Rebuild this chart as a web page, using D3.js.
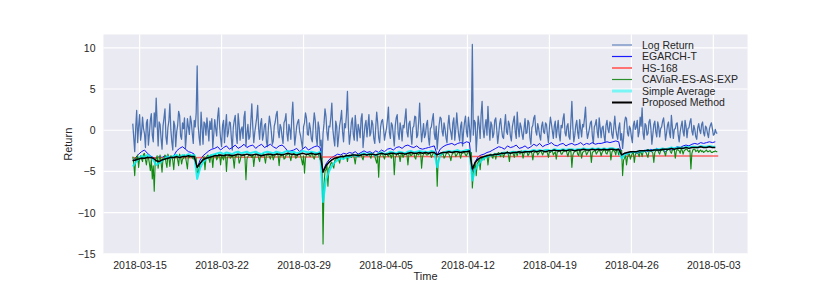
<!DOCTYPE html>
<html>
<head>
<meta charset="utf-8">
<script src="https://cdn.jsdelivr.net/npm/d3@7"></script>
<style>
  body { margin: 0; background: #fff; }
  text { font-family: "Liberation Sans", Arial, sans-serif; }
</style>
</head>
<body>
<script>
// log returns, every 2h from 2018-03-14 10:00
const logReturn = [
  0.8, -0.9, -2.6, 0.3, 2.4, -1.5, 0.5, 1.9, -1.2, -0.3, 1.6, 0.2, -0.4, -2.1, 0.9, 1.3, -1.8, -0.5, 1.2, 2.0,
  -0.6, -1.4, 2.1, 0.4, 3.9, 0.8, -1.9, 1.0, 0.7, -1.0, -2.3, 0.5, 1.5, 2.6, -0.8, -1.7, 0.3, 1.1, 3.2, 0.1,
  -1.4, -2.4, 1.1, 0.6, -2.0, -0.2, 0.6, 2.3, 1.8, -0.7, -1.1, 0.9, 0.2, 1.5, -2.2, -0.6, 1.4, 0.4, -0.5, 1.7,
  1.0, -0.4, -1.6, 1.2, 0.4, 2.1, 7.8, 0.6, -0.9, -1.8, 2.2, 0.3, -1.7, 1.0, 0.8, -0.6, 1.5, 0.2, -1.3, 1.1,
  0.1, 1.4, -2.1, -0.5, 1.3, 0.2, -0.7, 1.6, 2.7, 0.5, -1.0, -2.0, 0.6, 1.2, -1.5, 0.4, 1.9, -0.8, -0.3, 1.0,
  0.9, -0.9, -2.4, 0.3, 1.2, 1.8, -0.6, -1.6, 2.0, 0.7, -1.2, 0.1, 0.4, -1.0, 1.6, 2.3, -1.9, -0.4, 0.7, -1.1,
  -0.8, 1.1, 3.2, 0.4, -1.5, -0.3, 0.6, 1.5, 3.0, 0.2, -1.1, 0.8, 1.4, -1.2, -0.5, 0.6, 0.8, -1.4, -2.0, 0.3,
  1.7, 0.9, -0.2, -1.7, -1.3, 0.5, 1.0, 1.9, 2.3, -0.1, -0.9, 0.7, 0.3, -0.8, -1.6, 0.9, 1.2, 2.0, -0.4, -1.3,
  0.7, 0.1, -1.1, 1.6, 3.4, 0.5, -1.8, -0.7, 0.5, 1.0, 1.3, -0.2, -0.7, -1.5, -2.2, 0.4, 0.9, 2.1, 1.5, -0.5,
  -0.6, 0.9, 0.2, -1.0, -1.4, 0.6, 2.1, 1.2, -0.9, -1.8, 1.0, 0.3, -1.9, -1.2, -3.5, -0.4, 0.8, 2.6, 1.7, -0.3,
  -1.2, 0.5, 0.4, 1.6, 3.3, 0.2, -1.0, -1.9, 1.1, 0.5, -2.0, -0.8, 0.6, 1.3, 2.4, -0.2, -1.4, 0.8, 0.3, 1.9,
  4.7, 0.4, -1.7, -0.6, 0.9, 1.5, -0.5, -1.2, 1.8, 0.3, -1.3, 0.7, 0.1, -0.9, 1.4, 2.0, -2.1, -0.7, 0.6, 1.2,
  -0.8, 0.5, 1.9, -0.7, -0.3, 1.2, 0.7, -1.0, -1.6, 0.4, 2.2, 0.9, -0.9, -1.5, 0.4, 1.1, 1.3, 0.2, -1.2, -0.4,
  0.2, 1.3, 2.8, -0.3, -1.0, 0.9, 0.6, -0.6, -1.9, 0.5, 1.5, 1.9, -0.4, -1.1, 0.9, 0.1, -1.3, 0.6, 0.3, 1.4,
  2.6, -0.2, -0.8, 0.8, 1.1, -0.5, -1.7, 0.3, 0.5, 1.7, 1.6, -0.9, -0.6, 1.0, 3.3, 0.6, -1.4, -0.3, 0.8, -0.9,
  -0.5, 0.7, 1.2, -0.9, -1.8, 0.2, 0.4, 1.3, 2.0, -0.4, -1.1, 0.5, -2.3, -0.8, 0.7, 1.6, 1.4, -0.1, -0.7, 0.9,
  0.2, -0.9, -1.5, 0.6, 1.8, 0.3, -0.3, -1.1, 0.9, 1.5, -1.2, 0.1, 2.1, 0.6, -0.6, -1.3, 0.5, 1.0, -1.9, -0.2,
  1.0, 1.7, -0.2, -0.8, 1.6, 0.4, -1.4, 0.8, 10.4, -0.6, 1.2, 0.9, -2.6, -0.5, 1.7, 0.6, -1.0, 1.9, 3.5, 0.2,
  -0.9, 0.4, 1.3, -0.6, 2.9, 0.5, -1.2, 1.0, 0.6, -0.9, -0.4, 1.2, 1.5, 0.1, -1.6, -0.5, 0.8, 1.4, 0.1, -0.8,
  -1.0, 0.6, 1.9, -0.2, -0.5, 1.1, 0.7, -0.7, -1.3, 0.4, 1.1, 1.7, -0.2, -1.0, 2.2, 0.3, -0.8, 0.9, 0.4, -0.5,
  -1.1, 0.2, 1.4, -0.4, -0.3, 1.2, 0.9, -0.9, -1.7, 0.3, 0.6, 1.5, 1.8, -0.1, -0.6, 0.8, 0.2, -0.7, -1.2, 0.5,
  1.0, -0.2, -0.4, 0.9, 0.7, -0.6, -1.5, 0.3, 1.6, 0.8, -0.1, -1.0, 0.5, 1.1, -0.9, 0.2, 1.2, -0.5, -1.3, 0.6,
  0.3, 1.4, 2.0, -0.3, -0.7, 0.5, 0.8, -0.8, -1.1, 1.0, 3.5, 0.4, -1.4, -0.6, 0.6, 1.2, -0.3, -1.0, 1.3, 0.2,
  -0.8, 0.7, 0.4, 1.5, 2.8, 0.1, -1.0, -0.4, 0.2, 0.9, 1.1, -0.7, -1.6, 0.4, 0.7, 1.3, -0.2, -0.9, 1.5, 0.3,
  -0.9, 0.3, 0.5, -0.7, -1.4, 0.6, 1.2, 0.1, -0.3, 1.0, 0.8, -0.5, -1.0, 0.4, 1.7, 0.2, -0.6, -1.1, 0.3, 0.9,
  -1.2, -0.4, -2.2, -0.9, 0.9, 1.6, 1.4, -0.3, -0.7, 0.5, 0.2, -0.8, -1.5, 0.6, 1.1, 0.1, 0.4, 1.2, -0.8, -0.2,
  1.6, 0.5, 2.7, -0.4, -1.1, 0.8, 0.6, -0.6, -0.4, 1.0, 1.3, 0.2, -1.7, -0.5, 0.7, 1.1, -0.2, -0.8, 1.0, 0.4,
  -0.8, 0.2, 0.4, 1.1, 1.5, 0.3, -1.2, -0.4, 0.6, 1.0, -0.3, -0.9, 1.8, 0.4, -1.0, 0.1, 0.2, 0.8, 0.9, -0.6,
  -1.4, -0.2, 0.5, 1.1, -0.2, -0.7, 1.2, 0.5, -0.9, 0.2, 0.3, 1.0, 1.4, -0.1, -0.6, 0.6, 0.1, -0.8, -1.1, 0.3,
  0.8, 0.0, -0.4, 0.7, 1.0, -0.3, -0.7, 0.5, 0.3, -0.4, -0.9, 0.2, 0.6, 0.9, 0.2, -0.6, -0.5, 0.1, -0.3, -0.4
];

// CAViaR-ES-AS-EXP, every 2h
const caviar = [
  -3.2, -4.0, -5.5, -3.3, -3.6, -3.0, -4.5, -3.4, -3.1, -3.5, -3.8, -2.9, -2.8, -3.6, -4.2, -3.2, -3.3, -4.0, -4.9, -3.5,
  -5.9, -4.3, -7.4, -3.8, -3.4, -3.1, -4.6, -3.6, -3.0, -3.9, -5.1, -3.4, -3.5, -3.0, -3.9, -4.5, -2.9, -3.3, -4.4, -3.1,
  -3.2, -3.7, -4.8, -3.2, -3.3, -3.0, -3.6, -4.3, -2.9, -3.2, -4.1, -3.5, -3.4, -3.0, -3.2, -3.9, -4.7, -3.1, -3.3, -3.0,
  -3.1, -3.3, -3.5, -3.0, -3.2, -3.4, -5.0, -5.2, -4.6, -4.1, -3.9, -3.6, -3.5, -3.2, -4.8, -3.4, -3.2, -3.0, -3.4, -3.9,
  -3.0, -3.2, -4.5, -3.1, -3.1, -2.9, -3.6, -3.3, -2.9, -3.0, -4.2, -3.1, -3.3, -3.6, -3.0, -2.9, -5.0, -3.3, -3.1, -3.0,
  -3.4, -3.2, -2.9, -3.5, -4.6, -3.1, -3.2, -2.9, -3.0, -4.0, -3.7, -3.1, -3.1, -3.0, -2.9, -3.4, -6.0, -3.5, -3.2, -3.0,
  -3.0, -3.1, -3.3, -3.0, -4.4, -3.3, -3.0, -2.9, -2.9, -3.4, -3.8, -3.0, -3.1, -2.9, -2.8, -3.3, -4.0, -3.1, -3.0, -2.9,
  -3.2, -3.5, -2.9, -3.0, -3.6, -3.2, -3.0, -2.9, -2.8, -3.1, -4.3, -3.0, -3.1, -2.8, -2.9, -3.5, -3.4, -3.0, -3.0, -2.9,
  -2.8, -3.2, -3.7, -3.0, -3.0, -2.8, -2.9, -3.4, -3.3, -3.0, -2.8, -2.9, -3.1, -3.6, -4.2, -3.1, -5.2, -3.4, -3.0, -2.9,
  -2.9, -3.1, -3.2, -2.9, -2.8, -3.3, -3.5, -3.0, -3.0, -2.9, -2.9, -3.2, -3.6, -3.1, -3.4, -13.8, -6.5, -5.0, -4.8, -4.2,
  -6.8, -4.6, -4.4, -4.0, -3.9, -4.3, -4.6, -3.7, -3.6, -3.3, -3.4, -3.6, -4.0, -3.3, -3.2, -3.1, -3.5, -3.2, -3.1, -3.0,
  -3.8, -3.1, -3.0, -3.2, -3.3, -3.0, -2.9, -3.4, -4.1, -3.1, -3.0, -2.9, -3.2, -3.0, -2.9, -3.3, -3.6, -3.0, -2.9, -3.0,
  -3.0, -2.9, -2.8, -3.1, -3.4, -2.9, -2.9, -3.0, -3.1, -3.6, -4.0, -3.0, -5.7, -3.2, -3.0, -2.8, -2.9, -3.2, -3.5, -2.9,
  -2.8, -3.0, -3.2, -2.8, -3.0, -3.4, -2.8, -2.9, -5.4, -3.3, -3.1, -2.8, -2.9, -3.1, -3.8, -2.9, -2.8, -3.3, -3.0, -2.8,
  -2.9, -3.0, -4.2, -2.9, -2.8, -3.1, -3.0, -2.8, -2.7, -3.3, -3.5, -2.8, -2.9, -3.0, -2.8, -2.7, -4.6, -3.2, -2.9, -2.8,
  -2.8, -3.0, -3.0, -2.9, -2.7, -2.9, -3.3, -3.0, -2.8, -2.7, -2.9, -3.1, -6.8, -3.6, -3.4, -3.1, -3.0, -2.9, -2.8, -3.4,
  -3.2, -2.9, -2.7, -2.8, -2.9, -3.2, -3.7, -3.0, -2.8, -2.7, -2.7, -3.2, -3.0, -2.8, -2.6, -2.9, -3.4, -2.8, -2.8, -2.7,
  -2.7, -3.0, -3.1, -2.8, -2.6, -2.9, -2.9, -2.7, -7.0, -5.2, -4.6, -4.1, -5.5, -4.0, -3.9, -3.5, -4.8, -3.4, -3.6, -3.2,
  -3.6, -3.1, -3.3, -3.0, -4.2, -3.2, -3.0, -2.9, -3.2, -3.4, -2.9, -2.8, -3.5, -3.0, -2.8, -2.7, -3.0, -3.2, -2.7, -2.8,
  -3.3, -2.9, -2.8, -2.7, -2.6, -3.0, -3.8, -2.8, -2.7, -2.6, -2.9, -3.3, -2.6, -2.7, -3.1, -2.6, -2.7, -2.9, -2.5, -2.7,
  -3.4, -2.8, -2.7, -2.6, -2.6, -3.1, -2.9, -2.6, -2.5, -2.8, -3.6, -2.7, -2.7, -2.5, -2.6, -3.0, -2.8, -2.6, -2.5, -2.7,
  -3.0, -2.7, -2.6, -2.5, -2.5, -2.8, -3.3, -2.6, -2.7, -2.5, -2.5, -3.0, -2.8, -2.6, -3.5, -2.7, -2.6, -2.5, -2.5, -2.9,
  -2.9, -2.6, -2.6, -2.5, -2.4, -2.8, -3.2, -2.6, -2.6, -2.5, -4.5, -3.0, -2.7, -2.6, -2.5, -2.4, -2.9, -3.1, -2.4, -2.6,
  -3.4, -2.7, -2.6, -2.5, -2.5, -3.0, -2.8, -2.5, -2.4, -2.6, -3.9, -2.7, -2.6, -2.5, -2.5, -2.9, -2.7, -2.5, -2.4, -2.6,
  -3.1, -2.7, -2.5, -2.4, -2.4, -2.8, -2.9, -2.5, -2.5, -2.4, -3.6, -2.7, -2.4, -2.5, -2.6, -3.0, -2.3, -2.4, -3.0, -2.6,
  -2.5, -2.4, -5.5, -3.6, -3.4, -3.0, -4.2, -3.3, -3.0, -2.9, -3.5, -3.1, -2.8, -2.7, -3.9, -3.0, -2.7, -2.6, -2.9, -3.2,
  -2.6, -2.7, -3.2, -2.6, -2.5, -2.6, -2.7, -3.0, -3.3, -2.6, -2.5, -2.5, -2.6, -2.8, -3.9, -2.7, -2.5, -2.4, -2.4, -2.7,
  -2.9, -2.5, -2.4, -2.3, -2.5, -2.7, -3.1, -2.5, -2.4, -2.3, -2.3, -2.6, -2.8, -2.4, -2.4, -2.3, -3.4, -2.6, -2.3, -2.4,
  -2.5, -2.8, -2.3, -2.4, -2.9, -2.5, -2.4, -2.3, -2.3, -2.5, -2.6, -2.4, -4.7, -2.8, -2.4, -2.3, -2.3, -2.6, -2.5, -2.4,
  -2.7, -2.5, -2.4, -2.6, -2.5, -2.7, -2.6, -2.5, -2.4, -2.6, -2.6, -2.5, -2.5, -2.7, -2.7, -2.6, -2.6, -2.5, -2.6, -2.6
];

// EGARCH-T, every 6h
const egarch = [
  -3.7, -3.3, -2.9, -2.6, -2.4, -2.8, -3.1, -3.3, -3.4, -3.2, -3.3, -3.1, -3.2, -3.3, -3.1, -2.5, -2.2, -2.0, -2.3, -2.6,
  -2.7, -2.9, -4.6, -3.6, -3.1, -2.8, -2.5, -2.3, -2.2, -2.0, -2.4, -2.1, -1.9, -2.3, -2.1, -1.8, -2.2, -2.0, -1.7, -2.1,
  -1.9, -1.8, -2.2, -1.9, -1.7, -2.1, -1.9, -1.7, -2.0, -2.2, -1.9, -1.8, -2.1, -2.6, -2.5, -2.4, -2.2, -2.6, -2.3, -2.0,
  -2.4, -2.2, -2.0, -1.9, -2.1, -5.0, -4.1, -3.6, -3.3, -3.1, -2.9, -3.0, -2.8, -2.9, -2.7, -2.8, -2.6, -2.9, -2.7, -2.5,
  -2.7, -2.6, -2.8, -2.5, -2.7, -2.4, -2.6, -2.3, -2.2, -2.4, -2.1, -2.0, -2.2, -1.9, -1.8, -2.0, -2.1, -1.9, -2.2, -2.3,
  -2.2, -2.1, -2.0, -1.9, -3.0, -2.3, -2.0, -1.8, -1.7, -1.6, -1.8, -1.6, -1.5, -1.6, -1.4, -1.5, -5.0, -3.8, -3.2, -3.0,
  -2.9, -2.7, -2.6, -2.4, -2.2, -2.0, -2.1, -2.3, -1.9, -2.1, -2.0, -1.8, -2.2, -2.1, -1.9, -2.2, -2.0, -1.7, -1.9, -1.6,
  -2.0, -1.8, -1.7, -1.5, -1.8, -1.9, -1.7, -1.6, -1.9, -1.7, -1.6, -1.8, -1.7, -1.5, -1.8, -1.6, -1.7, -1.5, -1.7, -1.6,
  -1.6, -1.5, -1.4, -1.5, -1.4, -1.3, -1.4, -3.0, -2.8, -2.9, -2.7, -2.6, -2.8, -2.7, -2.6, -2.4, -2.6, -2.3, -2.5, -2.2,
  -2.5, -2.4, -2.6, -2.3, -2.4, -2.2, -2.0, -2.1, -1.9, -1.8, -1.9, -1.7, -1.6, -1.7, -1.5, -1.6, -1.5, -1.4, -1.5, -1.4
];

// HS-168, daily
const hs168 = [
  -3.35, -3.35, -3.34, -3.34, -3.33, -3.33, -3.32, -3.30, -3.30, -3.28, -3.27, -3.27, -3.26, -3.25, -3.25, -3.24, -3.26,
  -3.25, -3.24, -3.23, -3.22, -3.22, -3.21, -3.20, -3.20, -3.20, -3.21, -3.21, -3.20, -3.20, -3.20, -3.19, -3.19, -3.18,
  -3.18, -3.18, -3.17, -3.17, -3.16, -3.16, -3.15, -3.16, -3.15, -3.15, -3.14, -3.14, -3.13, -3.13, -3.13, -3.12, -3.12
];

// Simple Average, every 6h
const simpleAvg = [
  -4.4, -3.9, -3.5, -3.1, -3.3, -3.0, -3.2, -3.6, -4.2, -4.0, -3.7, -3.4, -3.2, -3.4, -3.1, -3.0, -3.3, -3.0, -3.1, -2.9,
  -3.1, -3.0, -5.9, -4.6, -3.9, -3.5, -3.2, -3.0, -2.9, -2.8, -2.7, -2.9, -2.7, -2.8, -2.9, -2.7, -2.6, -2.8, -2.7, -2.6,
  -2.8, -2.7, -2.6, -2.8, -2.9, -2.7, -2.6, -2.7, -2.8, -2.6, -2.7, -2.8, -2.6, -2.5, -2.7, -2.6, -2.8, -2.7, -2.5, -2.6,
  -2.7, -2.6, -2.7, -2.8, -2.6, -8.7, -6.0, -5.0, -4.3, -3.9, -3.6, -3.4, -3.5, -3.2, -3.3, -3.0, -3.1, -3.2, -2.9, -2.8,
  -3.0, -2.8, -2.9, -3.1, -2.8, -2.7, -2.9, -2.8, -2.6, -2.7, -2.8, -2.6, -2.7, -2.8, -2.6, -2.5, -2.7, -2.6, -2.5, -2.6,
  -2.6, -2.7, -2.5, -2.6, -4.5, -3.0, -2.7, -2.6, -2.5, -2.6, -2.5, -2.4, -2.6, -2.5, -2.4, -2.4, -6.1, -4.8, -4.2, -3.7,
  -3.4, -3.2, -3.1, -3.0, -2.9, -3.0, -2.8, -2.7, -2.8, -2.7, -2.6, -2.7, -2.6, -2.6, -2.5, -2.6, -2.5, -2.4, -2.5, -2.4,
  -2.5, -2.4, -2.4, -2.5, -2.3, -2.4, -2.4, -2.3, -2.4, -2.3, -2.3, -2.4, -2.3, -2.3, -2.2, -2.3, -2.3, -2.2, -2.3, -2.2,
  -2.3, -2.2, -2.3, -2.2, -2.2, -2.3, -2.3, -3.4, -3.0, -2.8, -2.7, -2.6, -2.7, -2.5, -2.6, -2.5, -2.4, -2.5, -2.4, -2.3,
  -2.3, -2.2, -2.3, -2.2, -2.1, -2.2, -2.1, -2.1, -2.2, -2.0, -2.1, -2.0, -2.0, -2.1, -1.9, -2.0, -2.0, -1.9, -2.0, -2.0
];

// Proposed Method, every 6h
const proposed = [
  -3.7, -3.6, -3.5, -3.4, -3.4, -3.3, -3.3, -3.4, -3.7, -3.8, -3.6, -3.5, -3.4, -3.3, -3.3, -3.2, -3.3, -3.2, -3.2, -3.1,
  -3.2, -3.2, -4.5, -4.0, -3.6, -3.4, -3.3, -3.2, -3.1, -3.1, -3.0, -3.1, -3.0, -3.0, -3.1, -3.0, -2.9, -3.0, -3.0, -2.9,
  -3.0, -3.0, -2.9, -3.0, -3.1, -3.0, -2.9, -2.9, -3.0, -2.9, -2.9, -3.0, -2.9, -2.8, -2.9, -2.9, -3.0, -2.9, -2.8, -2.9,
  -2.9, -2.8, -2.9, -2.9, -2.8, -5.1, -4.3, -3.9, -3.6, -3.4, -3.3, -3.2, -3.2, -3.1, -3.1, -3.0, -3.0, -3.1, -3.0, -2.9,
  -3.0, -2.9, -2.9, -3.0, -2.9, -2.8, -2.9, -2.9, -2.8, -2.8, -2.9, -2.8, -2.8, -2.9, -2.8, -2.7, -2.8, -2.8, -2.7, -2.8,
  -2.7, -2.8, -2.7, -2.7, -3.0, -2.8, -2.7, -2.7, -2.6, -2.7, -2.6, -2.6, -2.7, -2.6, -2.6, -2.5, -4.7, -3.9, -3.5, -3.3,
  -3.2, -3.1, -3.0, -3.0, -2.9, -2.9, -2.8, -2.8, -2.7, -2.8, -2.7, -2.7, -2.6, -2.7, -2.6, -2.6, -2.6, -2.5, -2.6, -2.5,
  -2.5, -2.6, -2.5, -2.5, -2.4, -2.5, -2.5, -2.4, -2.5, -2.4, -2.4, -2.5, -2.4, -2.4, -2.3, -2.4, -2.4, -2.3, -2.4, -2.3,
  -2.4, -2.3, -2.4, -2.3, -2.3, -2.4, -2.3, -3.0, -2.8, -2.7, -2.6, -2.6, -2.6, -2.5, -2.5, -2.5, -2.4, -2.5, -2.4, -2.4,
  -2.4, -2.3, -2.3, -2.3, -2.2, -2.3, -2.2, -2.2, -2.2, -2.1, -2.2, -2.1, -2.1, -2.1, -2.0, -2.1, -2.1, -2.0, -2.1, -2.1
];

const xTickLabels = ["2018-03-15", "2018-03-22", "2018-03-29", "2018-04-05",
                     "2018-04-12", "2018-04-19", "2018-04-26", "2018-05-03"];
const yTickValues = [-15, -10, -5, 0, 5, 10];

const width = 830;
const height = 291;
const margin = { top: 34.5, right: 82.5, bottom: 37, left: 103.5 };

const start = new Date(2018, 2, 14, 10);
const hourMs = 3600 * 1000;
const toPoints = (values, stepHours) =>
    values.map((v, i) => ({ t: new Date(+start + i * stepHours * hourMs), v }));

// plotting order follows the legend
const series = [
    { name: "Log Return", pts: toPoints(logReturn, 2), color: "#4C72B0", lw: 1.25, op: 1, legendColor: "#7d98c6", legendLw: 1.5 },
    { name: "EGARCH-T", pts: toPoints(egarch, 6), color: "#1010ff", lw: 1, op: 1, legendColor: "#1a1aff", legendLw: 1.2 },
    { name: "HS-168", pts: toPoints(hs168, 24), color: "#ff3434", lw: 1.5, op: 0.75, legendColor: "#ff7373", legendLw: 2 },
    { name: "CAViaR-ES-AS-EXP", pts: toPoints(caviar, 2), color: "#108a10", lw: 1.1, op: 1, legendColor: "#2a8f2a", legendLw: 1.2 },
    { name: "Simple Average", pts: toPoints(simpleAvg, 6), color: "#00f0f0", lw: 2, op: 0.85, legendColor: "#7af5f5", legendLw: 3 },
    { name: "Proposed Method", pts: toPoints(proposed, 6), color: "#000000", lw: 1.5, op: 1, legendColor: "#000000", legendLw: 2 }
];

const svg = d3.select("body")
    .append("svg")
    .attr("width", width)
    .attr("height", height);

// matplotlib style 5% padding around the data
const allPts = series.flatMap(s => s.pts);
const [t0, t1] = d3.extent(allPts, d => +d.t);
const [v0, v1] = d3.extent(allPts, d => d.v);
const tPad = (t1 - t0) * 0.05;
const vPad = (v1 - v0) * 0.05;

const x = d3.scaleTime()
    .domain([new Date(t0 - tPad), new Date(t1 + tPad)])
    .range([margin.left, width - margin.right]);

const y = d3.scaleLinear()
    .domain([v0 - vPad, v1 + vPad])
    .range([height - margin.bottom, margin.top]);

const parseDay = d3.timeParse("%Y-%m-%d");
const xTicks = xTickLabels.map(parseDay);

// Background and grid
svg.append("rect")
    .attr("x", margin.left)
    .attr("y", margin.top)
    .attr("width", width - margin.left - margin.right)
    .attr("height", height - margin.top - margin.bottom)
    .attr("fill", "#EAEAF2");

svg.append("g")
    .selectAll("line")
    .data(yTickValues)
    .join("line")
    .attr("x1", margin.left)
    .attr("x2", width - margin.right)
    .attr("y1", d => y(d))
    .attr("y2", d => y(d))
    .attr("stroke", "#fff")
    .attr("stroke-width", 1.2);

svg.append("g")
    .selectAll("line")
    .data(xTicks)
    .join("line")
    .attr("x1", d => x(d))
    .attr("x2", d => x(d))
    .attr("y1", margin.top)
    .attr("y2", height - margin.bottom)
    .attr("stroke", "#fff")
    .attr("stroke-width", 1.2);

// Axes
const xAxis = svg.append("g")
    .attr("transform", `translate(0,${height - margin.bottom})`)
    .call(d3.axisBottom(x).tickValues(xTicks).tickFormat(d3.timeFormat("%Y-%m-%d")).tickSize(0).tickPadding(7.5));

const yAxis = svg.append("g")
    .attr("transform", `translate(${margin.left},0)`)
    .call(d3.axisLeft(y).tickValues(yTickValues).tickFormat(d => d < 0 ? "\u2212" + Math.abs(d) : d).tickSize(0).tickPadding(8));

[xAxis, yAxis].forEach(g => {
    g.select(".domain").remove();
    g.selectAll("text")
        .attr("fill", "#262626")
        .style("font-size", "10.5px")
        .style("font-family", "'Liberation Sans', Arial, sans-serif");
});

svg.append("text")
    .attr("x", (margin.left + width - margin.right) / 2)
    .attr("y", height - 11)
    .attr("text-anchor", "middle")
    .attr("fill", "#262626")
    .style("font-size", "11px")
    .text("Time");

svg.append("text")
    .attr("transform", `translate(72,${(margin.top + height - margin.bottom) / 2}) rotate(-90)`)
    .attr("text-anchor", "middle")
    .attr("fill", "#262626")
    .style("font-size", "11px")
    .text("Return");

// Lines
const line = d3.line()
    .x(d => x(d.t))
    .y(d => y(d.v));

svg.append("g")
    .selectAll("path")
    .data(series)
    .join("path")
    .attr("d", d => line(d.pts))
    .attr("fill", "none")
    .attr("stroke", d => d.color)
    .attr("stroke-width", d => d.lw)
    .attr("stroke-opacity", d => d.op)
    .attr("stroke-linejoin", "round");

// Legend
const legend = svg.append("g")
    .attr("transform", "translate(612,45)");

const rows = legend.selectAll("g")
    .data(series)
    .join("g")
    .attr("transform", (d, i) => `translate(0,${i * 11.5})`);

rows.append("line")
    .attr("x1", 0)
    .attr("x2", 20)
    .attr("stroke", d => d.legendColor)
    .attr("stroke-width", d => d.legendLw);

rows.append("text")
    .attr("x", 30)
    .attr("dy", "0.35em")
    .attr("fill", "#262626")
    .style("font-size", "10.5px")
    .text(d => d.name);
</script>
</body>
</html>
